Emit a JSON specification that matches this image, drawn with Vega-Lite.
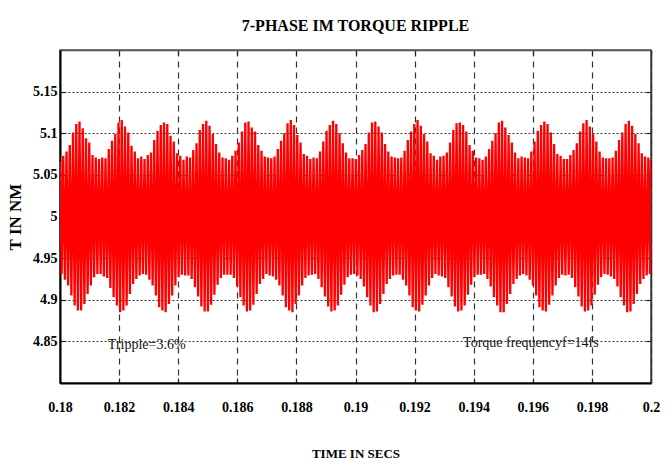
{
  "$schema": "https://vega.github.io/schema/vega-lite/v6.json",
  "width": 591,
  "height": 333,
  "autosize": {"type": "none"},
  "padding": {"left": 60, "top": 50, "right": 21, "bottom": 87},
  "background": "white",
  "title": {
    "text": "7-PHASE IM TORQUE RIPPLE",
    "font": "Liberation Serif",
    "fontSize": 16,
    "fontWeight": "bold",
    "color": "#000000",
    "anchor": "middle",
    "offset": 15
  },
  "config": {
    "view": {"stroke": "#555555", "strokeWidth": 1.5},
    "axis": {
      "labelFont": "Liberation Serif",
      "labelFontSize": 14,
      "labelFontWeight": "bold",
      "labelColor": "#000000",
      "titleFont": "Liberation Serif",
      "titleFontWeight": "bold",
      "titleColor": "#000000",
      "tickColor": "#222222",
      "tickWidth": 1.2,
      "gridColor": "#333333",
      "gridWidth": 1.2,
      "gridOpacity": 1
    }
  },
  "datasets": {
    "torque": [
      {"t":0.180000,"v":5.066},{"t":0.180055,"v":4.931},{"t":0.180110,"v":5.073},{"t":0.180165,"v":4.924},{"t":0.180220,"v":5.078},{"t":0.180275,"v":4.917},{"t":0.180330,"v":5.086},{"t":0.180385,"v":4.905},{"t":0.180440,"v":5.101},{"t":0.180495,"v":4.893},{"t":0.180550,"v":5.111},{"t":0.180605,"v":4.887},{"t":0.180660,"v":5.114},{"t":0.180715,"v":4.887},{"t":0.180770,"v":5.106},{"t":0.180825,"v":4.895},{"t":0.180880,"v":5.094},{"t":0.180935,"v":4.907},{"t":0.180990,"v":5.089},{"t":0.181045,"v":4.917},{"t":0.181100,"v":5.074},{"t":0.181155,"v":4.927},{"t":0.181210,"v":5.071},{"t":0.181265,"v":4.931},{"t":0.181320,"v":5.069},{"t":0.181375,"v":4.931},
      {"t":0.181430,"v":5.071},{"t":0.181485,"v":4.928},{"t":0.181540,"v":5.070},{"t":0.181595,"v":4.926},{"t":0.181650,"v":5.081},{"t":0.181705,"v":4.914},{"t":0.181760,"v":5.091},{"t":0.181815,"v":4.903},{"t":0.181870,"v":5.099},{"t":0.181925,"v":4.893},{"t":0.181980,"v":5.113},{"t":0.182035,"v":4.885},{"t":0.182090,"v":5.116},{"t":0.182145,"v":4.887},{"t":0.182200,"v":5.108},{"t":0.182255,"v":4.893},{"t":0.182310,"v":5.101},{"t":0.182365,"v":4.907},{"t":0.182420,"v":5.085},{"t":0.182475,"v":4.919},{"t":0.182530,"v":5.078},{"t":0.182585,"v":4.925},{"t":0.182640,"v":5.070},{"t":0.182695,"v":4.929},{"t":0.182750,"v":5.072},{"t":0.182805,"v":4.931},
      {"t":0.182860,"v":5.069},{"t":0.182915,"v":4.930},{"t":0.182970,"v":5.074},{"t":0.183025,"v":4.924},{"t":0.183080,"v":5.077},{"t":0.183135,"v":4.917},{"t":0.183190,"v":5.092},{"t":0.183245,"v":4.905},{"t":0.183300,"v":5.103},{"t":0.183355,"v":4.891},{"t":0.183410,"v":5.110},{"t":0.183465,"v":4.887},{"t":0.183520,"v":5.113},{"t":0.183575,"v":4.885},{"t":0.183630,"v":5.111},{"t":0.183685,"v":4.895},{"t":0.183740,"v":5.097},{"t":0.183795,"v":4.905},{"t":0.183850,"v":5.090},{"t":0.183905,"v":4.917},{"t":0.183960,"v":5.076},{"t":0.184015,"v":4.927},{"t":0.184070,"v":5.073},{"t":0.184125,"v":4.930},{"t":0.184180,"v":5.068},{"t":0.184235,"v":4.929},
      {"t":0.184290,"v":5.072},{"t":0.184345,"v":4.929},{"t":0.184400,"v":5.071},{"t":0.184455,"v":4.925},{"t":0.184510,"v":5.080},{"t":0.184565,"v":4.915},{"t":0.184620,"v":5.088},{"t":0.184675,"v":4.904},{"t":0.184730,"v":5.104},{"t":0.184785,"v":4.892},{"t":0.184840,"v":5.111},{"t":0.184895,"v":4.886},{"t":0.184950,"v":5.115},{"t":0.185005,"v":4.886},{"t":0.185060,"v":5.109},{"t":0.185115,"v":4.894},{"t":0.185170,"v":5.099},{"t":0.185225,"v":4.906},{"t":0.185280,"v":5.087},{"t":0.185335,"v":4.918},{"t":0.185390,"v":5.077},{"t":0.185445,"v":4.926},{"t":0.185500,"v":5.071},{"t":0.185555,"v":4.930},{"t":0.185610,"v":5.070},{"t":0.185665,"v":4.930},
      {"t":0.185720,"v":5.068},{"t":0.185775,"v":4.930},{"t":0.185830,"v":5.073},{"t":0.185885,"v":4.926},{"t":0.185940,"v":5.079},{"t":0.185995,"v":4.916},{"t":0.186050,"v":5.089},{"t":0.186105,"v":4.903},{"t":0.186160,"v":5.102},{"t":0.186215,"v":4.893},{"t":0.186270,"v":5.113},{"t":0.186325,"v":4.886},{"t":0.186380,"v":5.114},{"t":0.186435,"v":4.887},{"t":0.186490,"v":5.107},{"t":0.186545,"v":4.894},{"t":0.186600,"v":5.102},{"t":0.186655,"v":4.907},{"t":0.186710,"v":5.086},{"t":0.186765,"v":4.919},{"t":0.186820,"v":5.079},{"t":0.186875,"v":4.925},{"t":0.186930,"v":5.072},{"t":0.186985,"v":4.931},{"t":0.187040,"v":5.071},{"t":0.187095,"v":4.929},
      {"t":0.187150,"v":5.070},{"t":0.187205,"v":4.928},{"t":0.187260,"v":5.072},{"t":0.187315,"v":4.924},{"t":0.187370,"v":5.081},{"t":0.187425,"v":4.917},{"t":0.187480,"v":5.091},{"t":0.187535,"v":4.905},{"t":0.187590,"v":5.100},{"t":0.187645,"v":4.891},{"t":0.187700,"v":5.112},{"t":0.187755,"v":4.887},{"t":0.187810,"v":5.116},{"t":0.187865,"v":4.885},{"t":0.187920,"v":5.110},{"t":0.187975,"v":4.895},{"t":0.188030,"v":5.098},{"t":0.188085,"v":4.905},{"t":0.188140,"v":5.089},{"t":0.188195,"v":4.917},{"t":0.188250,"v":5.075},{"t":0.188305,"v":4.926},{"t":0.188360,"v":5.073},{"t":0.188415,"v":4.929},{"t":0.188470,"v":5.069},{"t":0.188525,"v":4.930},
      {"t":0.188580,"v":5.071},{"t":0.188635,"v":4.931},{"t":0.188690,"v":5.070},{"t":0.188745,"v":4.925},{"t":0.188800,"v":5.078},{"t":0.188855,"v":4.915},{"t":0.188910,"v":5.090},{"t":0.188965,"v":4.904},{"t":0.189020,"v":5.103},{"t":0.189075,"v":4.892},{"t":0.189130,"v":5.110},{"t":0.189185,"v":4.886},{"t":0.189240,"v":5.115},{"t":0.189295,"v":4.887},{"t":0.189350,"v":5.111},{"t":0.189405,"v":4.893},{"t":0.189460,"v":5.100},{"t":0.189515,"v":4.906},{"t":0.189570,"v":5.088},{"t":0.189625,"v":4.918},{"t":0.189680,"v":5.077},{"t":0.189735,"v":4.927},{"t":0.189790,"v":5.070},{"t":0.189845,"v":4.930},{"t":0.189900,"v":5.070},{"t":0.189955,"v":4.931},
      {"t":0.190010,"v":5.069},{"t":0.190065,"v":4.929},{"t":0.190120,"v":5.074},{"t":0.190175,"v":4.925},{"t":0.190230,"v":5.080},{"t":0.190285,"v":4.916},{"t":0.190340,"v":5.087},{"t":0.190395,"v":4.903},{"t":0.190450,"v":5.101},{"t":0.190505,"v":4.893},{"t":0.190560,"v":5.113},{"t":0.190615,"v":4.885},{"t":0.190670,"v":5.114},{"t":0.190725,"v":4.886},{"t":0.190780,"v":5.108},{"t":0.190835,"v":4.895},{"t":0.190890,"v":5.101},{"t":0.190945,"v":4.907},{"t":0.191000,"v":5.087},{"t":0.191055,"v":4.919},{"t":0.191110,"v":5.078},{"t":0.191165,"v":4.925},{"t":0.191220,"v":5.072},{"t":0.191275,"v":4.929},{"t":0.191330,"v":5.071},{"t":0.191385,"v":4.930},
      {"t":0.191440,"v":5.070},{"t":0.191495,"v":4.930},{"t":0.191550,"v":5.071},{"t":0.191605,"v":4.924},{"t":0.191660,"v":5.079},{"t":0.191715,"v":4.917},{"t":0.191770,"v":5.092},{"t":0.191825,"v":4.905},{"t":0.191880,"v":5.102},{"t":0.191935,"v":4.891},{"t":0.191990,"v":5.111},{"t":0.192045,"v":4.887},{"t":0.192100,"v":5.116},{"t":0.192155,"v":4.886},{"t":0.192210,"v":5.109},{"t":0.192265,"v":4.894},{"t":0.192320,"v":5.099},{"t":0.192375,"v":4.905},{"t":0.192430,"v":5.090},{"t":0.192485,"v":4.917},{"t":0.192540,"v":5.076},{"t":0.192595,"v":4.926},{"t":0.192650,"v":5.073},{"t":0.192705,"v":4.931},{"t":0.192760,"v":5.068},{"t":0.192815,"v":4.929},
      {"t":0.192870,"v":5.072},{"t":0.192925,"v":4.928},{"t":0.192980,"v":5.073},{"t":0.193035,"v":4.926},{"t":0.193090,"v":5.077},{"t":0.193145,"v":4.915},{"t":0.193200,"v":5.089},{"t":0.193255,"v":4.904},{"t":0.193310,"v":5.104},{"t":0.193365,"v":4.892},{"t":0.193420,"v":5.112},{"t":0.193475,"v":4.886},{"t":0.193530,"v":5.113},{"t":0.193585,"v":4.887},{"t":0.193640,"v":5.110},{"t":0.193695,"v":4.893},{"t":0.193750,"v":5.102},{"t":0.193805,"v":4.906},{"t":0.193860,"v":5.086},{"t":0.193915,"v":4.918},{"t":0.193970,"v":5.079},{"t":0.194025,"v":4.927},{"t":0.194080,"v":5.071},{"t":0.194135,"v":4.930},{"t":0.194190,"v":5.070},{"t":0.194245,"v":4.930},
      {"t":0.194300,"v":5.068},{"t":0.194355,"v":4.931},{"t":0.194410,"v":5.072},{"t":0.194465,"v":4.925},{"t":0.194520,"v":5.081},{"t":0.194575,"v":4.916},{"t":0.194630,"v":5.091},{"t":0.194685,"v":4.903},{"t":0.194740,"v":5.100},{"t":0.194795,"v":4.893},{"t":0.194850,"v":5.113},{"t":0.194905,"v":4.885},{"t":0.194960,"v":5.115},{"t":0.195015,"v":4.885},{"t":0.195070,"v":5.107},{"t":0.195125,"v":4.895},{"t":0.195180,"v":5.098},{"t":0.195235,"v":4.907},{"t":0.195290,"v":5.089},{"t":0.195345,"v":4.919},{"t":0.195400,"v":5.077},{"t":0.195455,"v":4.925},{"t":0.195510,"v":5.070},{"t":0.195565,"v":4.929},{"t":0.195620,"v":5.072},{"t":0.195675,"v":4.931},
      {"t":0.195730,"v":5.071},{"t":0.195785,"v":4.929},{"t":0.195840,"v":5.070},{"t":0.195895,"v":4.924},{"t":0.195950,"v":5.078},{"t":0.196005,"v":4.917},{"t":0.196060,"v":5.090},{"t":0.196115,"v":4.905},{"t":0.196170,"v":5.103},{"t":0.196225,"v":4.891},{"t":0.196280,"v":5.110},{"t":0.196335,"v":4.887},{"t":0.196390,"v":5.114},{"t":0.196445,"v":4.886},{"t":0.196500,"v":5.111},{"t":0.196555,"v":4.894},{"t":0.196610,"v":5.101},{"t":0.196665,"v":4.905},{"t":0.196720,"v":5.087},{"t":0.196775,"v":4.917},{"t":0.196830,"v":5.075},{"t":0.196885,"v":4.926},{"t":0.196940,"v":5.073},{"t":0.196995,"v":4.930},{"t":0.197050,"v":5.069},{"t":0.197105,"v":4.929},
      {"t":0.197160,"v":5.069},{"t":0.197215,"v":4.930},{"t":0.197270,"v":5.074},{"t":0.197325,"v":4.926},{"t":0.197380,"v":5.080},{"t":0.197435,"v":4.915},{"t":0.197490,"v":5.088},{"t":0.197545,"v":4.904},{"t":0.197600,"v":5.102},{"t":0.197655,"v":4.892},{"t":0.197710,"v":5.112},{"t":0.197765,"v":4.886},{"t":0.197820,"v":5.116},{"t":0.197875,"v":4.887},{"t":0.197930,"v":5.108},{"t":0.197985,"v":4.893},{"t":0.198040,"v":5.100},{"t":0.198095,"v":4.906},{"t":0.198150,"v":5.090},{"t":0.198205,"v":4.918},{"t":0.198260,"v":5.078},{"t":0.198315,"v":4.927},{"t":0.198370,"v":5.071},{"t":0.198425,"v":4.931},{"t":0.198480,"v":5.070},{"t":0.198535,"v":4.930},
      {"t":0.198590,"v":5.070},{"t":0.198645,"v":4.928},{"t":0.198700,"v":5.071},{"t":0.198755,"v":4.925},{"t":0.198810,"v":5.079},{"t":0.198865,"v":4.916},{"t":0.198920,"v":5.092},{"t":0.198975,"v":4.903},{"t":0.199030,"v":5.101},{"t":0.199085,"v":4.893},{"t":0.199140,"v":5.111},{"t":0.199195,"v":4.885},{"t":0.199250,"v":5.115},{"t":0.199305,"v":4.886},{"t":0.199360,"v":5.109},{"t":0.199415,"v":4.895},{"t":0.199470,"v":5.099},{"t":0.199525,"v":4.907},{"t":0.199580,"v":5.088},{"t":0.199635,"v":4.919},{"t":0.199690,"v":5.076},{"t":0.199745,"v":4.925},{"t":0.199800,"v":5.072},{"t":0.199855,"v":4.929},{"t":0.199910,"v":5.071},{"t":0.199965,"v":4.931},
      {"t":0.200000,"v":5.068}
    ],
    "notes": [
      {"t": 0.18162, "v": 4.846, "label": "Tripple=3.6%"},
      {"t": 0.19364, "v": 4.848, "label": "Torque frequencyf=14fs"}
    ]
  },
  "layer": [
    {
      "data": {"name": "torque"},
      "mark": {"type": "line", "color": "#ff0000", "strokeWidth": 2.3, "clip": true},
      "encoding": {
        "x": {
          "field": "t",
          "type": "quantitative",
          "scale": {"domain": [0.18, 0.2], "nice": false, "zero": false},
          "axis": {
            "orient": "bottom",
            "values": [0.18, 0.182, 0.184, 0.186, 0.188, 0.19, 0.192, 0.194, 0.196, 0.198, 0.2],
            "format": "~g",
            "title": "TIME IN SECS",
            "titleFontSize": 13,
            "titlePadding": 33,
            "labelPadding": 22,
            "tickSize": -5,
            "labelFlush": false,
            "domainColor": "#000000",
            "domainWidth": 2,
            "grid": true,
            "gridDash": [6, 5]
          }
        },
        "y": {
          "field": "v",
          "type": "quantitative",
          "scale": {"domain": [4.8, 5.2], "nice": false, "zero": false},
          "axis": {
            "orient": "left",
            "values": [4.85, 4.9, 4.95, 5, 5.05, 5.1, 5.15],
            "format": "~g",
            "title": "T  IN  NM",
            "titleFontSize": 17,
            "titlePadding": 8,
            "labelPadding": 8,
            "tickSize": -5,
            "labelFlush": false,
            "domainColor": "#000000",
            "domainWidth": 2,
            "grid": true,
            "gridDash": [2, 2]
          }
        }
      }
    },
    {
      "data": {"name": "torque"},
      "mark": {"type": "line", "opacity": 0},
      "encoding": {
        "x": {
          "field": "t",
          "type": "quantitative",
          "axis": {
            "orient": "top",
            "values": [0.18, 0.182, 0.184, 0.186, 0.188, 0.19, 0.192, 0.194, 0.196, 0.198, 0.2],
            "labels": false,
            "title": null,
            "tickSize": -5,
            "grid": false,
            "domainColor": "#555555",
            "domainWidth": 1.5
          }
        },
        "y": {
          "field": "v",
          "type": "quantitative",
          "axis": {
            "orient": "right",
            "values": [4.85, 4.9, 4.95, 5, 5.05, 5.1, 5.15],
            "labels": false,
            "title": null,
            "tickSize": -5,
            "grid": false,
            "domainColor": "#333333",
            "domainWidth": 1.5
          }
        }
      }
    },
    {
      "data": {"name": "notes"},
      "mark": {
        "type": "text",
        "align": "left",
        "baseline": "middle",
        "font": "Liberation Serif",
        "fontSize": 14,
        "color": "#111111"
      },
      "encoding": {
        "x": {"field": "t", "type": "quantitative", "axis": null},
        "y": {"field": "v", "type": "quantitative", "axis": null},
        "text": {"field": "label"}
      }
    }
  ],
  "resolve": {"axis": {"x": "independent", "y": "independent"}}
}
